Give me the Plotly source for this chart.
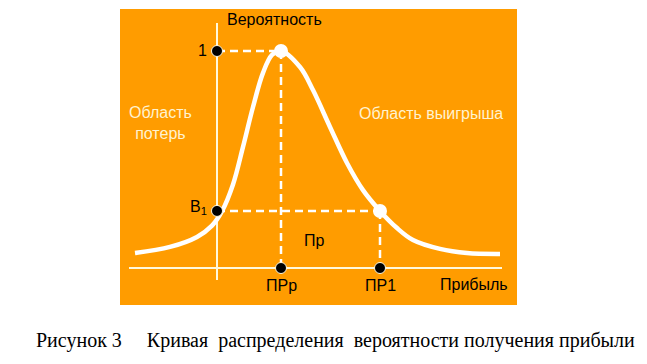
import plotly.graph_objects as go

# Curve of probability distribution of profit (profit units, probability units)
curve_x = [-0.82, -0.47, -0.20, -0.05, 0.05, 0.16, 0.26, 0.36, 0.46, 0.55, 0.64,
           0.83, 0.96, 1.13, 1.30, 1.46, 1.63, 1.80, 1.96, 2.23, 2.50, 2.83]
curve_y = [0.069, 0.097, 0.143, 0.195, 0.262, 0.385, 0.558, 0.742, 0.899, 0.982, 1.0,
           0.926, 0.820, 0.650, 0.484, 0.359, 0.263, 0.184, 0.129, 0.088, 0.069, 0.065]

pr_p = 0.64      # ПРр
pr_1 = 1.63      # ПР1
p_max = 1.0      # 1
b_1 = 0.263      # В1

x_axis_span = [-0.88, 2.85]
y_axis_span = [-0.055, 1.129]

ORANGE = "#FF9C00"
AXIS = "#FFF8DC"
TXT_LIGHT = "#FFF3D0"
FONT = "Arial, Liberation Sans, sans-serif"

fig = go.Figure()

# axes
fig.add_trace(go.Scatter(x=x_axis_span, y=[0, 0], mode="lines",
                         line=dict(color=AXIS, width=2), hoverinfo="skip"))
fig.add_trace(go.Scatter(x=[0, 0], y=y_axis_span, mode="lines",
                         line=dict(color=AXIS, width=2), hoverinfo="skip"))

# dashed guides
dash = dict(color="white", width=2.5, dash="8px,5px")
fig.add_trace(go.Scatter(x=[0, pr_p], y=[p_max, p_max], mode="lines", line=dash))
fig.add_trace(go.Scatter(x=[pr_p, pr_p], y=[p_max, 0], mode="lines", line=dash))
fig.add_trace(go.Scatter(x=[0, pr_1], y=[b_1, b_1], mode="lines", line=dash))
fig.add_trace(go.Scatter(x=[pr_1, pr_1], y=[b_1, 0], mode="lines", line=dash))

# curve
fig.add_trace(go.Scatter(x=curve_x, y=curve_y, mode="lines",
                         line=dict(color="white", width=4.5, shape="spline", smoothing=1.0)))

# white markers on curve
fig.add_trace(go.Scatter(x=[pr_p, pr_1], y=[p_max, b_1], mode="markers",
                         marker=dict(color="white", size=14)))
# black markers on axes
fig.add_trace(go.Scatter(x=[0, 0, pr_p, pr_1], y=[p_max, b_1, 0, 0], mode="markers",
                         marker=dict(color="black", size=11,
                                     line=dict(color=AXIS, width=1))))

def ann(text, x, y, color="black", size=16, xanchor="center", yanchor="middle", **kw):
    fig.add_annotation(text=text, x=x, y=y, xref="x", yref="y", showarrow=False,
                       font=dict(family=FONT, size=size, color=color),
                       xanchor=xanchor, yanchor=yanchor, **kw)

ann("Вероятность", 0.08, 1.143, xanchor="left")
ann("1", -0.08, p_max, xanchor="right")
ann("В<sub>1</sub>", -0.08, b_1 + 0.015, xanchor="right")
ann("Пр", 0.97, 0.125)
ann("ПРр", pr_p, -0.08)
ann("ПР1", pr_1, -0.08)
ann("Прибыль", 2.57, -0.075)
ann("Область выигрыша", 2.14, 0.714, color=TXT_LIGHT)
ann("Область<br>потерь", -0.57, 0.67, color=TXT_LIGHT)

sp = "\u00a0"
caption = "Рисунок 3" + sp * 4 + " Кривая" + sp + " распределения" + sp + " вероятности получения прибыли"
fig.add_annotation(text=caption,
                   x=(335 - 120) / 397, y=(305 - 340) / 296, xref="paper", yref="paper",
                   showarrow=False, xanchor="center", yanchor="middle",
                   font=dict(family="Liberation Serif, Times New Roman, serif", size=20, color="black"))

# page body has an 8px margin; compensate so the orange panel sits at x 120..517, y 9..305
fig.update_layout(
    width=639, height=356,
    margin=dict(l=112, r=130, t=1, b=59, pad=0),
    paper_bgcolor="white", plot_bgcolor=ORANGE,
    showlegend=False,
    xaxis=dict(range=[-0.97, 3.00], visible=False, fixedrange=True),
    yaxis=dict(range=[-0.1705, 1.1935], visible=False, fixedrange=True),
)

fig.write_html("out.html")
